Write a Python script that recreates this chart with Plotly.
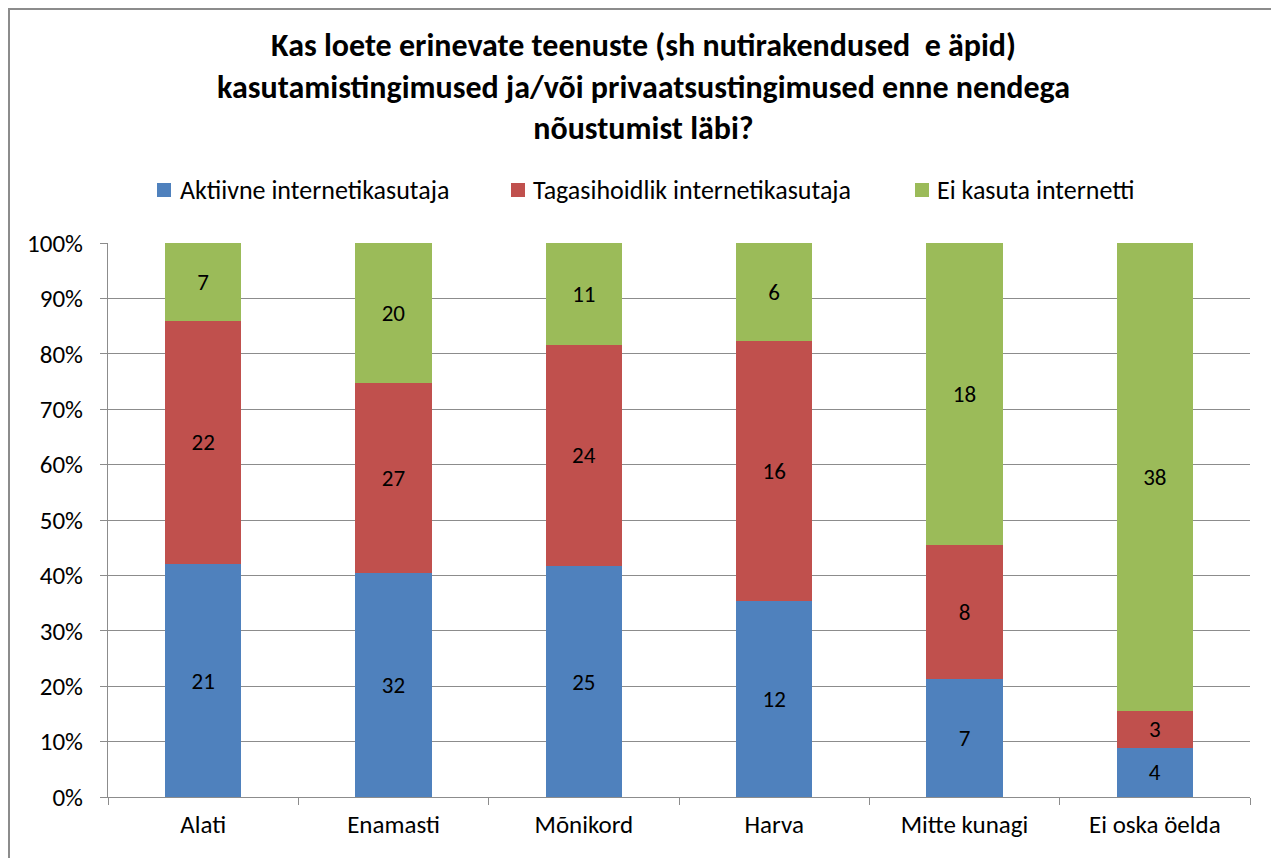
import plotly.graph_objects as go

categories = ["Alati", "Enamasti", "Mõnikord", "Harva", "Mitte kunagi", "Ei oska öelda"]
aktiivne = [21, 32, 25, 12, 7, 4]
tagasihoidlik = [22, 27, 24, 16, 8, 3]
ei_kasuta = [7, 20, 11, 6, 18, 38]
series_names = ["Aktiivne internetikasutaja", "Tagasihoidlik internetikasutaja", "Ei kasuta internetti"]
colors = ["#4F81BD", "#C0504D", "#9BBB59"]
title_text = ("Kas loete erinevate teenuste (sh nutirakendused  e äpid)<br>"
              "kasutamistingimused ja/või privaatsustingimused enne nendega<br>"
              "nõustumist läbi?")

FONT = "Carlito, Calibri, Liberation Sans Narrow, Arial Narrow, sans-serif"

# page body has an 8px margin, so figure coordinates = page px - 8
OFF = 8
W, H = 1279 - OFF, 858 - OFF
L, R, T, B = 108 - OFF, 1250 - OFF, 243 - OFF, 797 - OFF

fig = go.Figure()
for name, vals, col in zip(series_names, [aktiivne, tagasihoidlik, ei_kasuta], colors):
    fig.add_trace(go.Bar(
        x=categories, y=vals, name=name, marker_color=col, marker_line_width=0,
        text=[str(v) for v in vals], texttemplate="%{text}",
        textposition="inside", insidetextanchor="middle", textangle=0,
        textfont=dict(color="black", size=23, family=FONT),
    ))

def px_x(p):
    return (p - OFF - L) / (R - L)

def px_y(p):
    return (B - (p - OFF)) / (B - T)

fig.update_layout(
    width=W, height=H,
    barmode="stack", barnorm="percent", bargap=0.6,
    paper_bgcolor="white", plot_bgcolor="white",
    margin=dict(l=L, r=W - R, t=T, b=H - B),
    font=dict(family=FONT, size=25, color="black"),
    title=dict(text=title_text, x=0.5, xanchor="center", y=1 - (56 - OFF) / H, yanchor="middle",
               font=dict(family=FONT, size=32, color="black", weight="bold")),
    uniformtext=dict(minsize=23, mode="show"),
    showlegend=False,
)
fig.update_xaxes(showgrid=False, showline=True, linecolor="#8c8c8c", linewidth=1,
                 ticks="outside", tickson="boundaries", ticklen=7, tickcolor="#8c8c8c",
                 ticklabelstandoff=5,
                 tickfont=dict(family=FONT, size=25))
fig.update_yaxes(range=[0, 100], dtick=10, ticksuffix="%", showgrid=True, gridcolor="#8c8c8c",
                 gridwidth=1, showline=True, linecolor="#8c8c8c", linewidth=1,
                 ticks="outside", ticklen=7, tickcolor="#8c8c8c",
                 ticklabelstandoff=12,
                 tickfont=dict(family=FONT, size=25), zeroline=False)

# manual legend (Excel-like layout)
legend_square_x = [157, 511, 915]
legend_text_x = [178, 531, 935]
for name, col, sx, tx in zip(series_names, colors, legend_square_x, legend_text_x):
    fig.add_shape(type="rect", xref="paper", yref="paper",
                  x0=px_x(sx), x1=px_x(sx + 14), y0=px_y(197), y1=px_y(183),
                  line=dict(width=0), fillcolor=col)
    fig.add_annotation(text=name, xref="paper", yref="paper", x=px_x(tx), y=px_y(190),
                       xanchor="left", yanchor="middle", showarrow=False,
                       font=dict(family=FONT, size=26, color="black"))

# outer chart border
fig.add_shape(type="rect", xref="paper", yref="paper",
              x0=px_x(OFF + 1), x1=px_x(1277), y0=px_y(OFF + H + 5), y1=px_y(OFF + 1),
              line=dict(color="#8c8c8c", width=2), fillcolor="rgba(0,0,0,0)", layer="below")

fig.write_html("out.html")
